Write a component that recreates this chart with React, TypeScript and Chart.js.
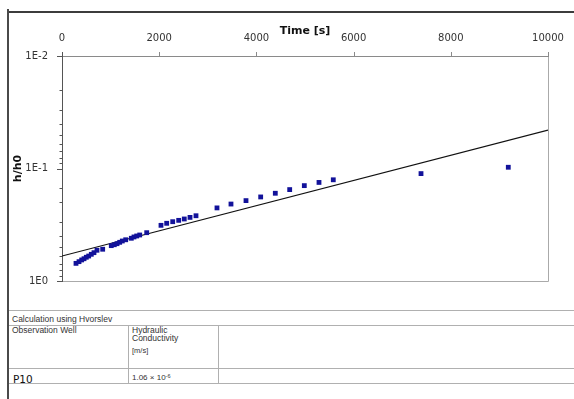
import React, { useEffect, useRef } from 'react';
import { Chart, registerables } from 'chart.js';

Chart.register(...registerables);

// Observed data (time in seconds, h/h0)
const timeS = [288, 350, 405, 453, 500, 549, 603, 658, 720, 837, 1014, 1076, 1132, 1187, 1241, 1311, 1426, 1481, 1537, 1599, 1743, 2037, 2154, 2278, 2401, 2516, 2634, 2757, 3189, 3477, 3786, 4088, 4389, 4685, 4986, 5288, 5582, 7387, 9183];
const hRatio = [0.697, 0.673, 0.65, 0.634, 0.615, 0.6, 0.579, 0.56, 0.533, 0.522, 0.485, 0.476, 0.466, 0.453, 0.441, 0.43, 0.417, 0.406, 0.398, 0.39, 0.372, 0.32, 0.307, 0.297, 0.289, 0.281, 0.272, 0.263, 0.224, 0.207, 0.193, 0.179, 0.166, 0.154, 0.142, 0.133, 0.126, 0.111, 0.0975];

// Hvorslev fit line
const fitTime = [0, 10000];
const fitRatio = [0.6, 0.0455];

const xTickValues = [0, 2000, 4000, 6000, 8000, 10000];

const isDecade = (v: number) => {
  const l = Math.log10(v);
  return Math.abs(l - Math.round(l)) < 1e-9;
};

const framePlugin = {
  id: 'framePlugin',
  beforeDatasetsDraw(chart: any) {
    const { ctx, chartArea: a, scales } = chart;
    const xs = scales.x;
    const ys = scales.y;
    ctx.save();
    ctx.lineWidth = 1;
    // right and bottom border
    ctx.strokeStyle = '#aaaaaa';
    ctx.beginPath();
    ctx.moveTo(a.right + 0.5, a.top);
    ctx.lineTo(a.right + 0.5, a.bottom + 0.5);
    ctx.lineTo(a.left, a.bottom + 0.5);
    ctx.stroke();
    // top axis line + ticks
    ctx.strokeStyle = '#8a8a8a';
    ctx.beginPath();
    ctx.moveTo(a.left - 4, a.top + 0.5);
    ctx.lineTo(a.right + 1, a.top + 0.5);
    xs.ticks.forEach((t: any) => {
      const px = Math.round(xs.getPixelForValue(t.value)) + 0.5;
      ctx.moveTo(px, a.top);
      ctx.lineTo(px, a.top - 4);
    });
    ctx.stroke();
    // left axis line + ticks
    ctx.strokeStyle = '#555555';
    ctx.beginPath();
    ctx.moveTo(a.left + 0.5, a.top - 4);
    ctx.lineTo(a.left + 0.5, a.bottom + 1);
    ys.ticks.forEach((t: any) => {
      const py = Math.round(ys.getPixelForValue(t.value)) + 0.5;
      const len = isDecade(t.value) ? 5 : 2.5;
      ctx.moveTo(a.left, py);
      ctx.lineTo(a.left - len, py);
    });
    ctx.stroke();
    ctx.restore();
  },
};

function ChartCanvas() {
  const ref = useRef<HTMLCanvasElement | null>(null);
  useEffect(() => {
    if (!ref.current) return;
    const chart = new Chart(ref.current, {
      type: 'scatter',
      data: {
        datasets: [
          {
            label: 'Fit',
            data: fitTime.map((t, i) => ({ x: t, y: fitRatio[i] })),
            showLine: true,
            borderColor: '#111111',
            borderWidth: 1.2,
            pointRadius: 0,
            fill: false,
            order: 2,
          },
          {
            label: 'Observed',
            data: timeS.map((t, i) => ({ x: t, y: hRatio[i] })),
            pointStyle: 'rect',
            pointRadius: 3.4,
            backgroundColor: '#12129a',
            borderWidth: 0,
            showLine: false,
            order: 1,
          },
        ],
      },
      options: {
        animation: false,
        responsive: false,
        devicePixelRatio: 1,
        layout: { padding: { left: 8, top: 22, right: 26, bottom: 24 } },
        plugins: { legend: { display: false }, tooltip: { enabled: false } },
        scales: {
          x: {
            type: 'linear',
            position: 'top',
            min: 0,
            max: 10000,
            afterBuildTicks: (s: any) => {
              s.ticks = xTickValues.map((v) => ({ value: v }));
            },
            afterFit: (s: any) => {
              s.height = 34;
            },
            grid: { display: false },
            border: { display: false },
            ticks: {
              callback: (v: any) => String(v),
              padding: 4,
              autoSkip: false,
              maxRotation: 0,
              color: '#333333',
              font: { family: 'DejaVu Sans', size: 10 },
            },
            title: {
              display: true,
              text: 'Time [s]',
              color: '#111111',
              font: { family: 'DejaVu Sans', size: 11, weight: 'bold' },
              padding: { top: 3, bottom: 0 },
            },
          },
          y: {
            type: 'logarithmic',
            position: 'left',
            reverse: true,
            min: 0.01,
            max: 1,
            afterFit: (s: any) => {
              s.width = 54;
            },
            grid: { display: false },
            border: { display: false },
            ticks: {
              callback: (v: any) => (isDecade(Number(v)) ? '1E' + Math.round(Math.log10(Number(v))) : ''),
              autoSkip: false,
              padding: 6,
              color: '#333333',
              font: { family: 'DejaVu Sans', size: 10 },
            },
            title: {
              display: true,
              text: 'h/h0',
              color: '#111111',
              font: { family: 'DejaVu Sans', size: 11, weight: 'bold' },
              padding: { top: 4, bottom: 0 },
            },
          },
        },
      },
      plugins: [framePlugin],
    } as any);
    return () => chart.destroy();
  }, []);
  return (
    <canvas
      ref={ref}
      width={574}
      height={305}
      style={{ position: 'absolute', left: 0, top: 0, width: 574, height: 305 }}
    />
  );
}

const tableFont = "'Liberation Sans', Arial, sans-serif";

function Txt(props: { x: number; cy: number; size: number; family?: string; color?: string; children: any }) {
  const lh = Math.round(props.size * 1.3);
  return (
    <div
      style={{
        position: 'absolute',
        left: props.x,
        top: props.cy - lh / 2,
        height: lh,
        lineHeight: lh + 'px',
        fontSize: props.size,
        fontFamily: props.family || tableFont,
        color: props.color || '#333',
        whiteSpace: 'nowrap',
      }}
    >
      {props.children}
    </div>
  );
}

function HLine(props: { y: number; x1: number; x2: number; color?: string; w?: number }) {
  return (
    <div
      style={{
        position: 'absolute',
        left: props.x1,
        top: props.y,
        width: props.x2 - props.x1,
        height: props.w || 1,
        background: props.color || '#b0b0b0',
      }}
    />
  );
}

function VLine(props: { x: number; y1: number; y2: number; color?: string; w?: number }) {
  return (
    <div
      style={{
        position: 'absolute',
        left: props.x,
        top: props.y1,
        width: props.w || 1,
        height: props.y2 - props.y1,
        background: props.color || '#b0b0b0',
      }}
    />
  );
}

export default function App() {
  return (
    <div style={{ position: 'absolute', left: 0, top: 0, width: 574, height: 399, background: '#fff', overflow: 'hidden' }}>
      <ChartCanvas />
      {/* outer frame */}
      <HLine y={11} x1={7} x2={574} w={2} color="#3c3c3c" />
      <VLine x={7} y1={9} y2={399} w={2} color="#4a4a4a" />
      {/* table */}
      <HLine y={310} x1={9} x2={574} />
      <HLine y={325} x1={9} x2={574} />
      <HLine y={368} x1={9} x2={574} />
      <HLine y={383} x1={9} x2={574} />
      <VLine x={128} y1={325} y2={384} />
      <VLine x={218} y1={325} y2={384} />
      <Txt x={12} cy={319} size={8.5}>Calculation using Hvorslev</Txt>
      <Txt x={12} cy={330} size={8.5}>Observation Well</Txt>
      <Txt x={132} cy={330} size={8.5}>Hydraulic</Txt>
      <Txt x={132} cy={338} size={8.5}>Conductivity</Txt>
      <Txt x={132} cy={350.5} size={7.5}>[m/s]</Txt>
      <Txt x={13} cy={378.5} size={10.5} family="'DejaVu Sans', Verdana, sans-serif" color="#111">P10</Txt>
      <Txt x={132} cy={377.5} size={8}>
        1.06 × 10<sup style={{ fontSize: 5.5, verticalAlign: 'top', position: 'relative', top: -2 }}>-6</sup>
      </Txt>
    </div>
  );
}
